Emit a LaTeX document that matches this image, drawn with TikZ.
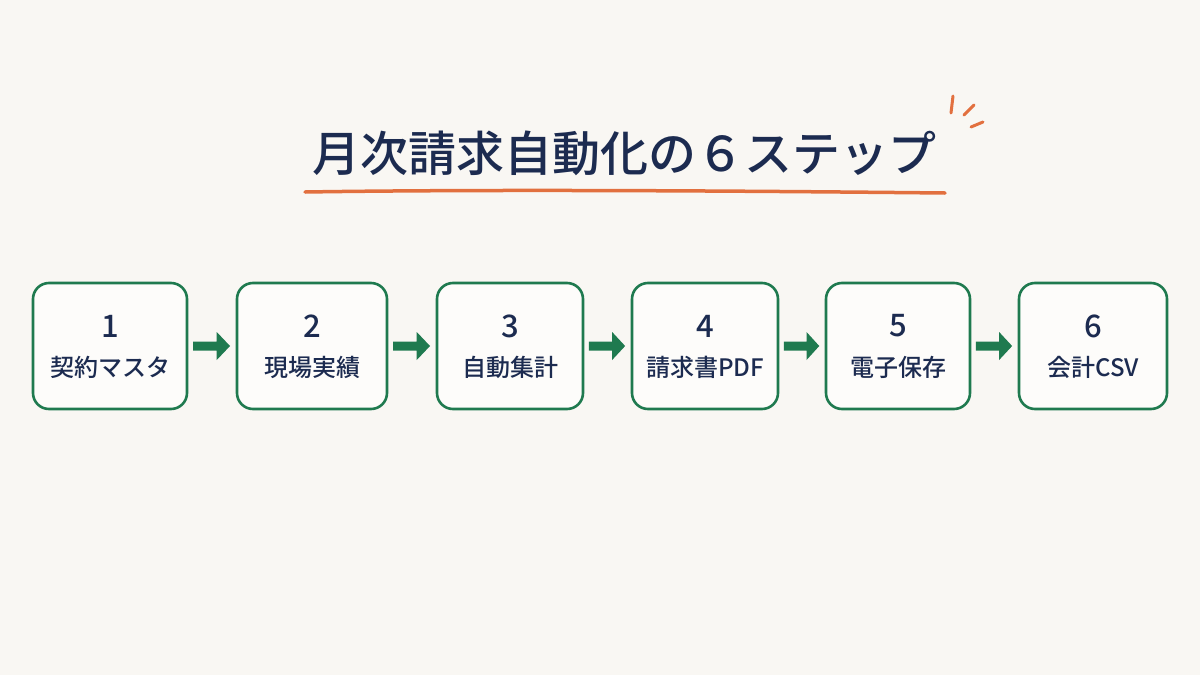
\documentclass[tikz,border=0pt]{standalone}
\usepackage{fontspec}
\newfontfamily\jp{Noto Sans CJK JP Medium}
\definecolor{bg}{HTML}{F9F7F3}
\definecolor{navy}{HTML}{1C2B50}
\definecolor{grn}{HTML}{1F7A4F}
\definecolor{org}{HTML}{E2703F}
\tikzset{
  stepbox/.style={draw=grn, line width=2.6pt, rounded corners=16pt, fill=white!60!bg, minimum width=150pt, minimum height=126pt, inner sep=0pt},
  numtxt/.style={text=navy, font=\jp\fontsize{31}{33}\selectfont, inner sep=0pt},
  labtxt/.style={text=navy, font=\jp\fontsize{24}{26}\selectfont, inner sep=0pt},
  flowarrow/.style={fill=grn, draw=none},
  accent/.style={draw=org, line width=3pt, line cap=round}
}
\begin{document}
\begin{tikzpicture}[x=1pt,y=-1pt]
\fill[bg] (0,0) rectangle (1200,675);
\useasboundingbox (0,0) rectangle (1200,675);
% title
\node (title) at (624,153) [text=navy, font=\jp\fontsize{48}{52}\selectfont, inner sep=0pt] {月次請求自動化の６ステップ};
\coordinate (ul1) at (305,192);
\coordinate (ul2) at (945,193);
\draw[org, line width=3.5pt, line cap=round] (ul1) .. controls (500,189) and (750,191) .. (ul2);
\coordinate (a1) at (953,96); \coordinate (a2) at (951,113);
\coordinate (b1) at (974,105); \coordinate (b2) at (964,115);
\coordinate (c1) at (983,122); \coordinate (c2) at (971,127);
\draw[accent] (a1) -- (a2);
\draw[accent] (b1) -- (b2);
\draw[accent] (c1) -- (c2);
% boxes
\foreach \i/\x/\w/\t in {1/110/154/契約マスタ, 2/312/150/現場実績, 3/510/146/自動集計, 4/705/146/請求書PDF, 5/898/144/電子保存, 6/1093/148/会計CSV}{
  \node[stepbox, minimum width=\w pt] (s\i) at (\x,346) {};
  \node[numtxt] (n\i) at (\x,326) {\i};
  \node[labtxt] (l\i) at (\x,367) {\t};
}
% arrows
\foreach \a/\b in {1/2,2/3,3/4,4/5,5/6}{
  \path (s\a.east) -- (s\b.west) coordinate[pos=0.1] (p\a) coordinate[pos=0.88] (q\a) coordinate[pos=0.6] (h\a);
  \fill[flowarrow] ([yshift=-4.5pt]p\a) -- ([yshift=-4.5pt]h\a) -- ([yshift=-14pt]h\a) -- (q\a) -- ([yshift=14pt]h\a) -- ([yshift=4.5pt]h\a) -- ([yshift=4.5pt]p\a) -- cycle;
}
\end{tikzpicture}
\end{document}
